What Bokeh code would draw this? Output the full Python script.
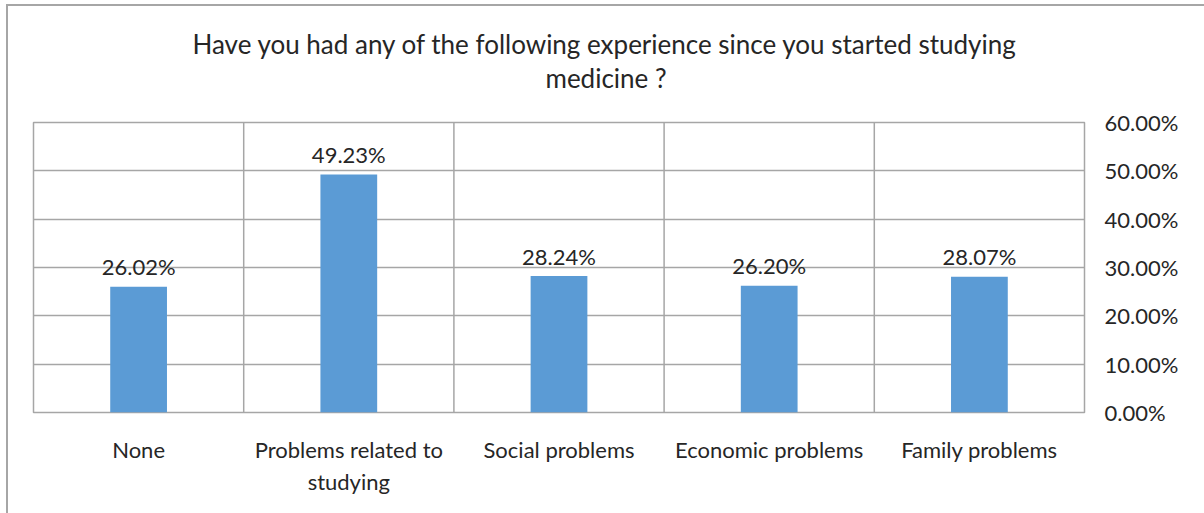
from bokeh.plotting import figure
from bokeh.layouts import column
from bokeh.models import FactorRange, Range1d, FixedTicker, NumeralTickFormatter, Span, Title, ColumnDataSource
from bokeh.core.properties import value
from bokeh.embed import file_html
from bokeh.resources import INLINE

categories = ["None", "Problems related to\nstudying", "Social problems", "Economic problems", "Family problems"]
values = [0.2602, 0.4923, 0.2824, 0.2620, 0.2807]
labels = ["26.02%", "49.23%", "28.24%", "26.20%", "28.07%"]
y_ticks = [0.0, 0.1, 0.2, 0.3, 0.4, 0.5, 0.6]
title_lines = ["Have you had any of the following experience since you started studying", "medicine ?"]

FONT = "Lato"
TXT = "#262626"
GRID = "#a6a6a6"

# --- title strip: two single-line titles stacked below an empty frame ---
t = figure(width=1196, height=87, output_backend="svg", toolbar_location=None,
           x_axis_location=None, y_axis_location=None, title_location="below",
           min_border_left=25, min_border_right=120, min_border_top=0, min_border_bottom=0)
t.outline_line_color = None
t.xgrid.visible = False
t.ygrid.visible = False
title_style = dict(text_font=FONT, text_font_size="26px", text_font_style="normal", text_color=TXT)
t.title.text = title_lines[1]
t.title.align = "left"
t.title.offset = 512
t.title.standoff = 0
for k, v in title_style.items():
    setattr(t.title, k, v)
t.add_layout(Title(text=title_lines[0], align="left", offset=159, standoff=0, **title_style), "below")

# --- main chart ---
src = ColumnDataSource(dict(x=categories, y=values, t=labels))

p = figure(width=1196, height=420, output_backend="svg", toolbar_location=None,
           x_range=FactorRange(*categories, range_padding=0, factor_padding=0),
           y_range=Range1d(0, 0.6), y_axis_location="right",
           min_border_left=25, min_border_right=120, min_border_top=29, min_border_bottom=101)

p.vbar(x="x", top="y", width=0.27, source=src, color="#5B9BD5", line_color=None)
p.text(x="x", y="y", text="t", source=src, text_align="center", text_baseline="middle",
       y_offset=-20, text_font=value(FONT), text_font_size="22px", text_color=TXT)

for i in range(1, len(categories)):
    p.add_layout(Span(location=i, dimension="height", line_color=GRID, line_width=1.5))

p.outline_line_color = GRID
p.outline_line_width = 1.5
p.xgrid.visible = False
p.ygrid.grid_line_color = GRID
p.ygrid.grid_line_width = 1.5
p.ygrid.ticker = FixedTicker(ticks=y_ticks)

ya = p.yaxis[0]
ya.ticker = FixedTicker(ticks=y_ticks)
ya.formatter = NumeralTickFormatter(format="0.00%")
ya.axis_line_color = None
ya.major_tick_line_color = None
ya.minor_tick_line_color = None
ya.major_label_standoff = 14
ya.major_label_text_font = FONT
ya.major_label_text_font_size = "22px"
ya.major_label_text_color = TXT

xa = p.xaxis[0]
xa.axis_line_color = None
xa.major_tick_line_color = None
xa.minor_tick_line_color = None
xa.major_label_standoff = 17
xa.major_label_text_font = FONT
xa.major_label_text_font_size = "22px"
xa.major_label_text_line_height = 1.2
xa.major_label_text_color = TXT

layout = column(t, p, spacing=0)
layout.styles = {"margin": "6px 0 0 8px", "outline": "2px solid #a6a6a6"}

open("out.html", "w").write(file_html(layout, INLINE))
